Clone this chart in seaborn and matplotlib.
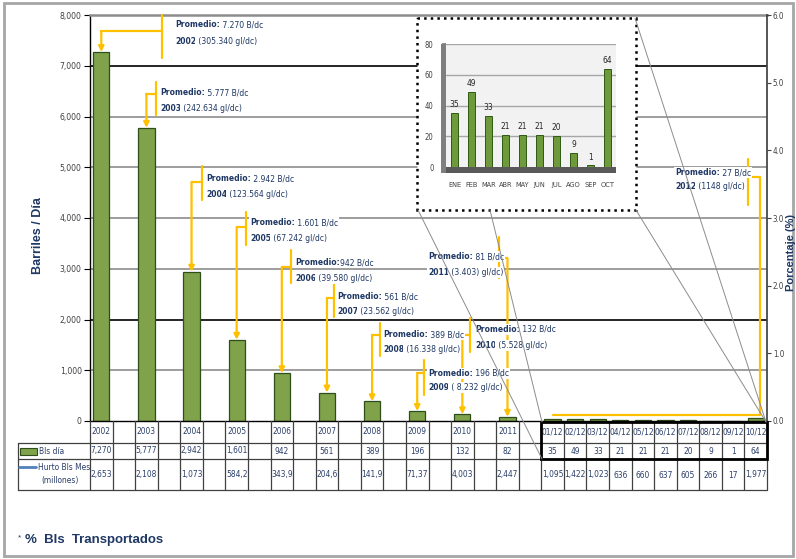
import numpy as np
import pandas as pd
import matplotlib
matplotlib.use('Agg')
import matplotlib.pyplot as plt
import seaborn as sns
from matplotlib.transforms import Affine2D
from matplotlib.patches import Rectangle
from matplotlib.lines import Line2D

# ---------------- data ----------------
years = ['2002', '2003', '2004', '2005', '2006', '2007', '2008', '2009', '2010', '2011']
bls_year = [7270, 5777, 2942, 1601, 942, 561, 389, 196, 132, 82]
months = ['01/12', '02/12', '03/12', '04/12', '05/12', '06/12', '07/12', '08/12', '09/12', '10/12']
bls_month = [35, 49, 33, 21, 21, 21, 20, 9, 1, 64]
inset_months = ['ENE', 'FEB', 'MAR', 'ABR', 'MAY', 'JUN', 'JUL', 'AGO', 'SEP', 'OCT']
hurto_year = ['2,653', '2,108', '1,073', '584,2', '343,9', '204,6', '141,9', '71,37', '4,003', '2,447']
hurto_month = ['1,095', '1,422', '1,023', '636', '660', '637', '605', '266', '17', '1,977']
prom_year = years + ['2012']
prom_bdc = [' 7.270 B/dc', ' 5.777 B/dc', ' 2.942 B/dc', ' 1.601 B/dc', '942 B/dc', ' 561 B/dc',
            ' 389 B/dc', ' 196 B/dc', ' 132 B/dc', ' 81 B/dc', ' 27 B/dc']
prom_gl = [' (305.340 gl/dc)', ' (242.634 gl/dc)', ' (123.564 gl/dc)', ' (67.242 gl/dc)',
           ' (39.580 gl/dc)', ' (23.562 gl/dc)', ' (16.338 gl/dc)', ' ( 8.232 gl/dc)',
           ' (5.528 gl/dc)', ' (3.403) gl/dc)', ' (1148 gl/dc)']
left_ticks = [0, 1000, 2000, 3000, 4000, 5000, 6000, 7000, 8000]
right_ticks = [0.0, 1.0, 2.0, 3.0, 4.0, 5.0, 6.0]
inset_ticks = [0, 20, 40, 60, 80]

# ---------------- style ----------------
sns.set_theme(style='white')
plt.rcParams['font.family'] = ['Liberation Sans', 'DejaVu Sans']
NARROW = dict(family='DejaVu Sans', fontstretch='condensed')
NAVY = '#1F3864'
YEL = '#FFC000'
GREEN = '#7fa24a'
GEDGE = '#2f4f1a'
TXT = '#2b3f6b'
AFS = 6.1

W, H = 796, 559
fig = plt.figure(figsize=(W / 100, H / 100), dpi=100)
pix = Affine2D().scale(1 / W, -1 / H).translate(0, 1) + fig.transFigure

# ---------------- main axes ----------------
order = []
for i, y in enumerate(years):
    order += [y, ' ' * (i + 1)]
order += months
df = pd.DataFrame({'cat': years + months, 'val': bls_year + bls_month})

X0, X1 = 90, 767
ax = fig.add_axes([X0 / W, 1 - 421 / H, (X1 - X0) / W, 406 / H])
sns.barplot(data=df, x='cat', y='val', order=order, ax=ax, color=GREEN,
            width=0.72, edgecolor=GEDGE, linewidth=0.9, errorbar=None, saturation=1)
ax.set_xlim(-0.5, len(order) - 0.5)
ax.set_ylim(0, 8000)
ax.set_yticks(left_ticks)
ax.set_yticklabels([f'{v:,}' for v in left_ticks], fontsize=6.2, color='#404040', **NARROW)
ax.set_xticks([])
ax.set_xlabel('')
ax.set_ylabel('')
ax.tick_params(axis='y', direction='out', length=4, width=0.8, color='black', left=True, pad=2)
for v in left_ticks[1:-1]:
    c = 'black' if v in (2000, 7000) else '#8c8c8c'
    ax.axhline(v, color=c, lw=1.2, zorder=0.5)
for s in ['left', 'bottom']:
    ax.spines[s].set_color('black')
    ax.spines[s].set_linewidth(1)
ax.spines['top'].set_color('#8c8c8c')
ax.spines['top'].set_linewidth(1.8)
ax.spines['right'].set_visible(False)

ax2 = ax.twinx()
ax2.set_ylim(0, 6)
ax2.set_yticks(right_ticks)
ax2.set_yticklabels([f'{v:.1f}' for v in right_ticks], fontsize=5.8, color='#404040', **NARROW)
ax2.tick_params(axis='y', direction='out', length=3, width=0.8, color='#404040', right=True, pad=1.2)
for s in ['left', 'top', 'bottom']:
    ax2.spines[s].set_visible(False)
ax2.spines['right'].set_color('#404040')
ax2.grid(False)

fig.text(38 / W, 1 - 236 / H, 'Barriles / Día', rotation=90, ha='center', va='center',
         fontsize=9, fontweight='bold', color=NAVY)
fig.text(791 / W, 1 - 252 / H, 'Porcentaje (%)', rotation=90, ha='center', va='center',
         fontsize=8, fontweight='bold', color=NAVY)

# ---------------- annotations ----------------
def bar_px(col):
    return ax.transData.transform((col, 0))[0]

WB = dict(facecolor='white', edgecolor='none', pad=0.6)

def rich(x, y, bold, normal):
    t1 = ax2.text(x, y, bold, transform=pix, fontsize=AFS, fontweight='bold', color=NAVY,
                  ha='left', va='bottom', bbox=WB, zorder=6, **NARROW)
    ax2.annotate(normal, xy=(1, 0), xycoords=t1, fontsize=AFS, color=NAVY,
                 ha='left', va='bottom', bbox=WB, zorder=6, annotation_clip=False, **NARROW)

def yline(xs, ys):
    ax2.add_line(Line2D(xs, ys, transform=pix, color=YEL, lw=1.6, zorder=5, clip_on=False))

# (bracket x, bracket y0, y1, connector y, text x, text y-line1, text y-line2)
layout = [
    (162, 15, 58, 31, 175, 24, 41),
    (156, 82, 115, 94, 160, 92, 108),
    (202, 166, 200, 182, 206, 178, 194),
    (246, 212, 245, 227, 250, 222, 238),
    (291, 250, 283, 267, 295, 262, 278),
    (334, 283, 317, 298, 337, 296, 311),
    (380, 323, 356, 335, 383, 334, 349),
    (424, 360, 395, 373, 428, 373, 387),
    (470, 318, 352, 335, 475, 329, 345),
    (499, 237, 278, 258, 428, 256, 272),
]
for i, (bx, y0, y1, cy, tx, ty1, ty2) in enumerate(layout):
    col = order.index(years[i])
    bp = bar_px(col)
    yline([bx, bx], [y0, y1])
    yline([bx, bp], [cy, cy])
    ax2.annotate('', xy=(col, bls_year[i]), xycoords=ax.transData,
                 xytext=(bp, cy), textcoords=pix, annotation_clip=False,
                 arrowprops=dict(arrowstyle='-|>', color=YEL, lw=1.6, mutation_scale=8,
                                 shrinkA=0, shrinkB=0), zorder=4)
    rich(tx, ty1 + 5, 'Promedio:', prom_bdc[i])
    rich(tx, ty2 + 5, prom_year[i], prom_gl[i])

# 2012 annotation
yline([748, 748], [159, 205])
yline([748, 760, 760, 553], [177, 177, 415, 415])
rich(675, 177, 'Promedio:', prom_bdc[10])
rich(675, 191, prom_year[10], prom_gl[10])

# ---------------- table ----------------
axt = fig.add_axes([X0 / W, 1 - 490 / H, (X1 - X0) / W, 69 / H])
axt.set_xlim(-0.5, len(order) - 0.5)
axt.set_ylim(490, 421)
axt.axis('off')
colw = (X1 - X0) / len(order)
def tx(p):
    return (p - X0) / colw - 0.5
LX = tx(18)
LC = '#404040'
TF = dict(ha='center', va='center', fontsize=6.0, color=TXT, **NARROW)
for yy in (443, 459, 490):
    axt.plot([LX, len(order) - 0.5], [yy, yy], color=LC, lw=0.9, clip_on=False)
for k in range(len(order) + 1):
    axt.plot([k - 0.5, k - 0.5], [421, 490], color=LC, lw=0.9, clip_on=False)
axt.plot([LX, LX], [443, 490], color=LC, lw=0.9, clip_on=False)
m0 = order.index(months[0])
axt.add_patch(Rectangle((m0 - 0.5, 421.5), len(months), 37.5, fill=False, ec='black', lw=2,
                        clip_on=False, zorder=5))
for i, y in enumerate(years):
    c = order.index(y)
    axt.text(c, 432, y, **TF)
    axt.text(c, 451, f'{bls_year[i]:,}', **TF)
    axt.text(c, 475, hurto_year[i], **TF)
for i, m in enumerate(months):
    c = order.index(m)
    axt.text(c, 432, m, **TF)
    axt.text(c, 451, f'{bls_month[i]:,}', **TF)
    axt.text(c, 475, hurto_month[i], **TF)
axt.add_patch(Rectangle((tx(20), 448), tx(37) - tx(20), 7, fc=GREEN, ec=GEDGE, lw=0.8,
                        clip_on=False))
axt.text(tx(39), 451, 'Bls día', ha='left', va='center', fontsize=6.0, color=TXT, **NARROW)
axt.plot([tx(19), tx(36)], [467, 467], color='#4f81bd', lw=2, clip_on=False)
axt.text(tx(37.5), 467, 'Hurto Bls Mes', ha='left', va='center', fontsize=6.0, color=TXT, **NARROW)
axt.text(tx(60), 481, '(millones)', ha='center', va='center', fontsize=6.0, color=TXT, **NARROW)

# ---------------- inset ----------------
fig.add_artist(Rectangle((417, 18), 219, 192, transform=pix, fc='white', ec='black',
                         lw=1.8, ls=':', zorder=2))
for (xa, ya, xb, yb) in [(418, 210, 542, 459), (490, 210, 542, 422),
                         (635, 18, 766, 422), (636, 210, 766, 422)]:
    fig.add_artist(Line2D([xa, xb], [ya, yb], transform=pix, color='#8c8c8c', lw=0.7, zorder=7))

axi = fig.add_axes([446 / W, 1 - 167 / H, 170 / W, 123 / H], zorder=8)
dfi = pd.DataFrame({'mes': inset_months, 'val': bls_month})
sns.barplot(data=dfi, x='mes', y='val', order=inset_months, ax=axi, color='#6e9a3c',
            width=0.38, edgecolor='#2f5a16', linewidth=0.7, errorbar=None, saturation=1)
axi.set_facecolor('#f2f2f2')
axi.set_ylim(0, 80)
axi.set_xlim(-0.5, len(inset_months) - 0.5)
axi.set_yticks(inset_ticks)
axi.set_yticklabels([str(v) for v in inset_ticks], fontsize=5.5, color='#404040', **NARROW)
axi.set_xticks(range(len(inset_months)))
axi.set_xticklabels(inset_months, fontsize=5.3, color='#404040', **NARROW)
axi.tick_params(axis='x', length=0, pad=11)
axi.tick_params(axis='y', length=3, pad=6, left=True, color='#808080')
axi.set_xlabel('')
axi.set_ylabel('')
for v in inset_ticks[1:]:
    axi.axhline(v, color='#a6a6a6', lw=1, zorder=0.5)
for s in axi.spines.values():
    s.set_visible(False)
axi.add_patch(Rectangle((-0.03, -0.045), 1.03, 0.045, transform=axi.transAxes, fc='#595959',
                        ec='none', clip_on=False))
axi.add_patch(Rectangle((-0.03, -0.045), 0.03, 1.045, transform=axi.transAxes, fc='#7f7f7f',
                        ec='none', clip_on=False))
for i, v in enumerate(bls_month):
    axi.text(i, v + 2.5, str(v), ha='center', va='bottom', fontsize=6, color='#262626', **NARROW)

# ---------------- frame & footer ----------------
fig.add_artist(Rectangle((4, 3), 789, 553, transform=pix, fill=False, ec='#a6a6a6', lw=2, zorder=1))
fig.text(18 / W, 1 - 538 / H, '*', fontsize=6, color=NAVY, ha='left', va='center')
fig.text(25 / W, 1 - 540 / H, '%  Bls  Transportados', fontsize=9.5, fontweight='bold',
         color=NAVY, ha='left', va='center')

fig.savefig('out.png', dpi=100)
